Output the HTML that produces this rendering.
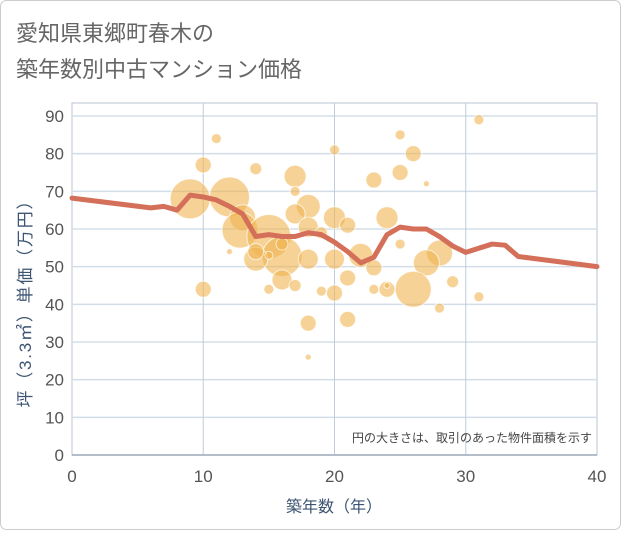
<!DOCTYPE html>
<html><head><meta charset="utf-8">
<style>
html,body{margin:0;padding:0;background:#fff;}
body{width:621px;height:530px;overflow:hidden;font-family:"Liberation Sans","Noto Sans CJK JP",sans-serif;}
</style></head>
<body>
<svg id="chart" width="621" height="530" xmlns="http://www.w3.org/2000/svg" style="font-family:'Liberation Sans','Noto Sans CJK JP',sans-serif">
<rect x="0.5" y="0.5" width="620" height="529" rx="6" fill="#fff" stroke="#ccc"/>
<text x="16" y="41" font-size="22" fill="#666">愛知県東郷町春木の</text>
<text x="16" y="77" font-size="22" fill="#666">築年数別中古マンション価格</text>
<rect x="72" y="103" width="525" height="352" fill="#fff" stroke="#b8c4d0"/>
<g id="grid"></g>
<g id="bubbles"></g>
<g id="line"></g>
<g id="axes"></g>
<text x="592" y="442" font-size="12" fill="#444" text-anchor="end">円の大きさは、取引のあった物件面積を示す</text>
<text x="334" y="512" font-size="16" fill="#3d5573" text-anchor="middle">築年数（年）</text>
<text x="0" y="0" font-size="17" fill="#3d5573" text-anchor="middle" textLength="215" lengthAdjust="spacing" transform="translate(31,300) rotate(-90)">坪（3.3㎡）単価（万円）</text>
</svg>
<script>
const xTicks=[0,10,20,30,40];
const yTicks=[0,10,20,30,40,50,60,70,80,90];
const lineYears=[0,6,7,8,9,10,11,12,13,14,15,16,17,18,19,20,21,22,23,24,25,26,27,28,29,30,32,33,34,40];
const lineValues=[68.2,65.6,66,65,69,68.5,67.7,66,64,58,58.5,58,58,59,58.5,56.5,54,51,52.5,58.5,60.5,60,60,58,55.5,53.8,56,55.7,52.7,50];
const bubbleYears=[11,10,9,12,13,12.8,14,17,17,18,17,15,16,14,14,18,19,20,21,18,20,16,15,17,19,20,21,10,18,21,18,12,20,16,15,31,25,26,25,23,27,24,25,28,27,22,23,23,24,24,26,29,31,28];
const bubbleValues=[84,77,68,68.5,63,59.7,76,74,70,66,64,58,52.7,52,54,60.5,59,63,61,52,52,46.5,44,45,43.5,43,47,44,35,36,26,54,81,56,53,89,85,80,75,73,72,63,56,53.6,51,53,49.7,44,44,45,44,46,42,39];
const bubbleSizes=[5,8,20,20,13,18,6,11,5,12,10,22,20,12,8,10,6,11,8,10,10,10,5,6,5,8,8,8,8,8,3,3,5,6,4,5,5,8,8,8,3,11,5,13,13,12,8,5,8,3,18,6,5,5];
const X0=72,X1=597,Y0=455,Y90=116;
function xs(v){return X0+(v-0)/40*(X1-X0);}
function ys(v){return Y0-(v/90)*(Y0-Y90);}
const NS="http://www.w3.org/2000/svg";
function mk(tag,attrs,parent){const e=document.createElementNS(NS,tag);for(const k in attrs)e.setAttribute(k,attrs[k]);parent.appendChild(e);return e;}
const grid=document.getElementById('grid'),axes=document.getElementById('axes');
yTicks.forEach(t=>{
  if(t>0){const l=mk('line',{x1:X0,x2:X1,y1:ys(t),y2:ys(t),stroke:'#d3dde8','stroke-width':1.5},grid);
  
  }
  const tx=mk('text',{x:64,y:ys(t)+6,'font-size':17,fill:'#555','text-anchor':'end'},axes);
  tx.textContent=t;
  
  
});
xTicks.forEach(t=>{
  if(t>0&&t<40){const l=mk('line',{x1:xs(t),x2:xs(t),y1:103,y2:Y0,stroke:'#c0ccd8','stroke-width':1},grid);
  
  }
  const tx=mk('text',{x:xs(t),y:482,'font-size':17,fill:'#555','text-anchor':'middle'},axes);
  tx.textContent=t;
  
  
});
const bl=mk('line',{x1:X0,x2:X1,y1:Y0,y2:Y0,stroke:'#9aa8b8','stroke-width':1.5},axes);


const bg=document.getElementById('bubbles');
bubbleYears.forEach((yr,i)=>{
  const c=mk('circle',{cx:xs(yr),cy:ys(bubbleValues[i]),r:bubbleSizes[i],fill:'rgba(240,180,80,0.6)',stroke:'rgba(255,255,255,0.7)','stroke-width':1},bg);
  
  
});
const pts=lineYears.map((y,i)=>xs(y)+','+ys(lineValues[i])).join(' ');
const pl=mk('polyline',{points:pts,fill:'none',stroke:'#d4705a','stroke-width':5,'stroke-linejoin':'round','stroke-linecap':'round'},document.getElementById('line'));


</script>
</body></html>
